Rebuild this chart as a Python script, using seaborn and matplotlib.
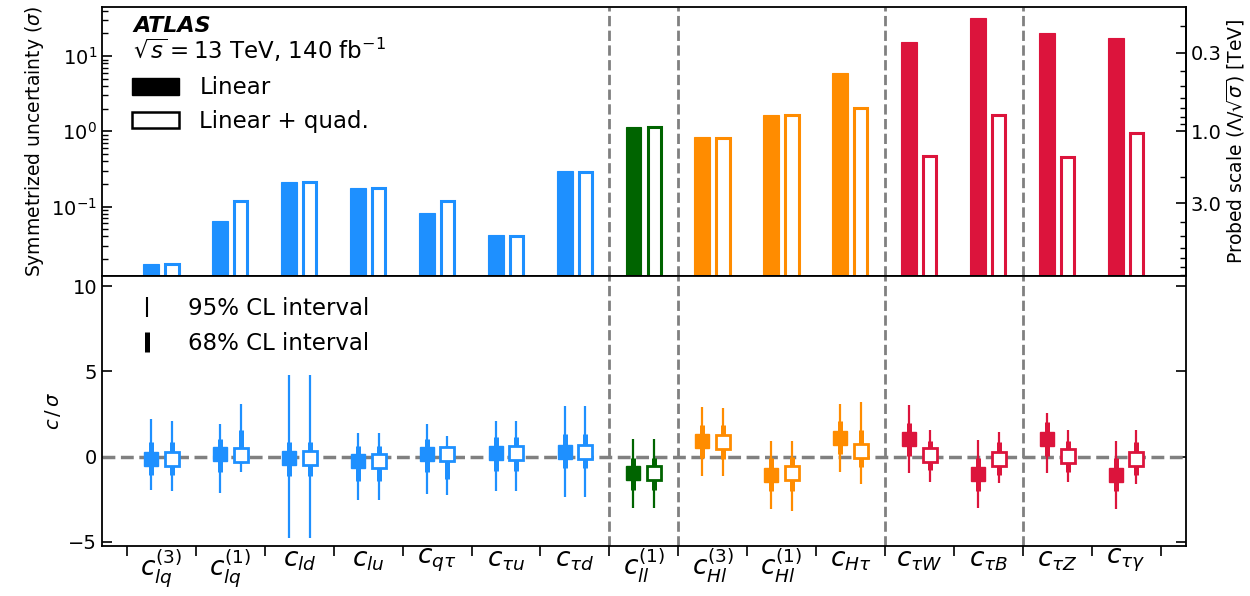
import numpy as np
import pandas as pd
import matplotlib
matplotlib.use("Agg")
import matplotlib.pyplot as plt
import seaborn as sns
from matplotlib.patches import Patch
from matplotlib.lines import Line2D
from matplotlib.ticker import FixedLocator, NullFormatter, LogLocator, FixedFormatter

# Wilson coefficients and their groups
operators = [r"$c_{lq}^{(3)}$", r"$c_{lq}^{(1)}$", r"$c_{ld}$", r"$c_{lu}$", r"$c_{q\tau}$",
             r"$c_{\tau u}$", r"$c_{\tau d}$", r"$c_{ll}^{(1)}$", r"$c_{Hl}^{(3)}$", r"$c_{Hl}^{(1)}$",
             r"$c_{H\tau}$", r"$c_{\tau W}$", r"$c_{\tau B}$", r"$c_{\tau Z}$", r"$c_{\tau\gamma}$"]
groups = ["4f", "4f", "4f", "4f", "4f", "4f", "4f", "ll", "H", "H", "H",
          "dipole", "dipole", "dipole", "dipole"]
group_colors = {"4f": "#1E90FF", "ll": "#006400", "H": "#FF8C00", "dipole": "#DC143C"}

# Symmetrized uncertainty (sigma)
sigma_linear = [0.0174, 0.064, 0.215, 0.177, 0.082, 0.042, 0.296, 1.13, 0.84, 1.67,
                6.0, 15.5, 31.8, 20.5, 17.2]
sigma_quad = [0.0174, 0.118, 0.21, 0.175, 0.117, 0.041, 0.29, 1.13, 0.82, 1.63,
              2.05, 0.47, 1.67, 0.46, 0.95]

# Best-fit c/sigma with 68% and 95% CL intervals, linear fit
lin_central = [-0.12, 0.12, -0.10, -0.29, 0.12, 0.20, 0.29, -0.98, 0.92, -1.06,
               1.10, 1.02, -1.02, 1.02, -1.06]
lin_68_lo = [-1.06, -0.92, -1.12, -1.41, -0.92, -0.86, -0.67, -1.96, -0.08, -2.04,
             0.12, 0.06, -2.04, 0.06, -2.04]
lin_68_hi = [0.88, 1.04, 0.88, 0.59, 1.04, 1.14, 1.33, -0.08, 1.86, -0.08,
             2.08, 1.96, -0.06, 2.02, -0.08]
lin_95_lo = [-1.94, -2.14, -4.80, -2.53, -2.20, -2.00, -2.35, -3.02, -1.14, -3.10,
             -0.92, -0.98, -3.04, -0.98, -3.08]
lin_95_hi = [2.22, 1.92, 4.80, 1.37, 1.92, 2.06, 2.96, 1.02, 2.90, 0.90,
             3.10, 3.04, 1.00, 2.55, 0.94]

# Best-fit c/sigma with 68% and 95% CL intervals, linear + quadratic fit
quad_central = [-0.12, 0.08, -0.10, -0.29, 0.16, 0.20, 0.25, -0.94, 0.88, -0.98,
                0.33, 0.10, -0.14, 0.06, -0.16]
quad_68_lo = [-1.06, -0.39, -1.12, -1.41, -1.31, -0.86, -0.67, -1.96, -0.12, -2.00,
              -0.59, -0.82, -1.06, -0.90, -1.08]
quad_68_hi = [0.88, 1.57, 0.88, 0.59, 0.59, 1.14, 1.33, -0.08, 1.86, -0.04,
              1.53, 0.94, 0.88, 0.94, 0.88]
quad_95_lo = [-2.04, -0.92, -4.80, -2.53, -2.24, -2.00, -2.35, -3.02, -1.14, -3.18,
              -1.60, -1.51, -1.57, -1.51, -1.63]
quad_95_hi = [2.08, 3.10, 4.80, 1.37, 1.18, 2.06, 2.96, 1.02, 2.86, 0.90,
              3.20, 1.53, 1.43, 1.53, 1.53]

fit_labels = ["Linear", "Linear + quad."]
group_breaks = [6.5, 7.5, 10.5, 12.5]

sns.set_theme(style="ticks")
plt.rcParams["font.family"] = ["DejaVu Sans"]
plt.rcParams["mathtext.fontset"] = "dejavusans"
for key in ("text.color", "axes.labelcolor", "xtick.color", "ytick.color", "axes.edgecolor"):
    plt.rcParams[key] = "black"

fig = plt.figure(figsize=(12.5, 5.96), dpi=100)
gs = fig.add_gridspec(2, 1, hspace=0.0, left=0.0816, right=0.9488, top=0.9883, bottom=0.0844)
ax_top = fig.add_subplot(gs[0])
ax_bot = fig.add_subplot(gs[1], sharex=ax_top)

n = len(operators)
colors = [group_colors[g] for g in groups]
offset = 0.15

# ---- upper panel: symmetrized uncertainties ----
bars = pd.DataFrame({
    "operator": operators * 2,
    "fit": [fit_labels[0]] * n + [fit_labels[1]] * n,
    "sigma": sigma_linear + sigma_quad,
})
sns.barplot(data=bars, x="operator", y="sigma", hue="fit", order=operators,
            hue_order=fit_labels, width=0.6, gap=0.23, log_scale=(False, True),
            legend=False, ax=ax_top, err_kws={"linewidth": 0})

for k, container in enumerate(ax_top.containers):
    for i, patch in enumerate(container):
        c = colors[i]
        if k == 0:
            patch.set_facecolor(c)
            patch.set_edgecolor(c)
            patch.set_linewidth(0.8)
        else:
            w = patch.get_width()
            shrink = 0.04
            patch.set_x(patch.get_x() + shrink / 2)
            patch.set_width(w - shrink)
            patch.set_facecolor("white")
            patch.set_edgecolor(c)
            patch.set_linewidth(2.2)

ax_top.set_yscale("log")
ax_top.set_ylim(0.0118, 45)
ax_top.set_xlim(-0.865, 14.87)
ax_top.set_xlabel("")
ax_top.set_ylabel(r"Symmetrized uncertainty ($\sigma$)", fontsize=13.5)
ax_top.tick_params(axis="x", which="both", bottom=False, top=False, labelbottom=False)
ax_top.tick_params(axis="y", which="major", direction="in", length=7, width=1.2, labelsize=14)
ax_top.tick_params(axis="y", which="minor", direction="in", length=4, width=1.0)
ax_top.yaxis.set_major_locator(LogLocator(base=10))
ax_top.yaxis.set_minor_locator(LogLocator(base=10, subs=np.arange(2, 10)))
ax_top.yaxis.set_minor_formatter(NullFormatter())

# probed scale Lambda / sqrt(sigma) for Lambda = 1 TeV
sec = ax_top.secondary_yaxis("right", functions=(lambda s: 1.0 / np.sqrt(s),
                                                 lambda p: 1.0 / np.square(p)))
sec.set_yticks([0.3, 1.0, 3.0])
sec.set_yticklabels(["0.3", "1.0", "3.0"])
sec.yaxis.set_minor_locator(LogLocator(base=10, subs=np.arange(2, 10)))
sec.yaxis.set_minor_formatter(NullFormatter())
sec.tick_params(axis="y", which="major", direction="in", length=7, width=1.2, labelsize=14)
sec.tick_params(axis="y", which="minor", direction="in", length=4, width=1.0)
sec.set_ylabel(r"Probed scale ($\Lambda/\sqrt{\sigma}$) [TeV]", fontsize=13.5, labelpad=2)

ax_top.text(0.029, 0.906, "ATLAS", transform=ax_top.transAxes, fontsize=16,
            fontweight="bold", fontstyle="italic", va="baseline")
ax_top.text(0.029, 0.806, r"$\sqrt{s} = 13$ TeV, 140 fb$^{-1}$", transform=ax_top.transAxes,
            fontsize=16.5, va="baseline")
ax_top.legend(handles=[Patch(facecolor="black", edgecolor="black", label=fit_labels[0]),
                       Patch(facecolor="white", edgecolor="black", linewidth=1.8,
                             label=fit_labels[1])],
              loc="upper left", bbox_to_anchor=(0.028, 0.743), frameon=False, fontsize=16.5,
              handlelength=2.05, handleheight=0.74, labelspacing=0.47, handletextpad=0.87,
              borderpad=0.0, borderaxespad=0.0)

# ---- lower panel: c / sigma with CL intervals ----
fits = [
    (lin_central, lin_68_lo, lin_68_hi, lin_95_lo, lin_95_hi, -offset, True),
    (quad_central, quad_68_lo, quad_68_hi, quad_95_lo, quad_95_hi, offset, False),
]
xs = np.arange(n)
for cen, lo68, hi68, lo95, hi95, dx, filled in fits:
    for i in range(n):
        x = xs[i] + dx
        c = colors[i]
        ax_bot.vlines(x, lo95[i], hi95[i], color=c, linewidth=1.6, zorder=3)
        ax_bot.vlines(x, lo68[i], hi68[i], color=c, linewidth=3.6, zorder=3)
        ax_bot.plot(x, cen[i], marker="s", markersize=9.5, color=c,
                    markerfacecolor=c if filled else "white", markeredgecolor=c,
                    markeredgewidth=2.0 if not filled else 1.0, linestyle="none", zorder=4)

ax_bot.axhline(0, color="gray", linestyle="--", linewidth=2.5, zorder=1)
ax_bot.set_ylim(-5.24, 10.59)
ax_bot.set_yticks([-5, 0, 5, 10])
ax_bot.set_yticklabels(["\u22125", "0", "5", "10"])
ax_bot.set_ylabel(r"$c\,/\,\sigma$", fontsize=14)
ax_bot.tick_params(axis="y", which="major", direction="in", length=7, width=1.2,
                   labelsize=14, left=True, right=True)

ax_bot.xaxis.set_major_locator(FixedLocator(xs))
ax_bot.xaxis.set_major_formatter(FixedFormatter(operators))
ax_bot.xaxis.set_minor_locator(FixedLocator(np.arange(-0.5, n, 1.0)))
ax_bot.tick_params(axis="x", which="major", length=0, labelsize=19, pad=1)
ax_bot.tick_params(axis="x", which="minor", direction="out", length=7, width=1.2)
ax_bot.set_xlabel("")

ax_bot.legend(handles=[Line2D([0], [0], marker="|", linestyle="none", color="black",
                              markersize=14.5, markeredgewidth=1.5, label="95% CL interval"),
                       Line2D([0], [0], marker="|", linestyle="none", color="black",
                              markersize=14.5, markeredgewidth=3.6, label="68% CL interval")],
              loc="upper left", bbox_to_anchor=(0.024, 0.925), frameon=False, fontsize=16.5,
              handlelength=1.65, labelspacing=0.56, handletextpad=0.96,
              borderpad=0.0, borderaxespad=0.0)

for ax in (ax_top, ax_bot):
    for xb in group_breaks:
        ax.axvline(xb, color="gray", linestyle="--", linewidth=2.0, zorder=2)
    for sp in ax.spines.values():
        sp.set_visible(True)
        sp.set_linewidth(1.3)
        sp.set_color("black")

fig.savefig("out.png", dpi=100)
